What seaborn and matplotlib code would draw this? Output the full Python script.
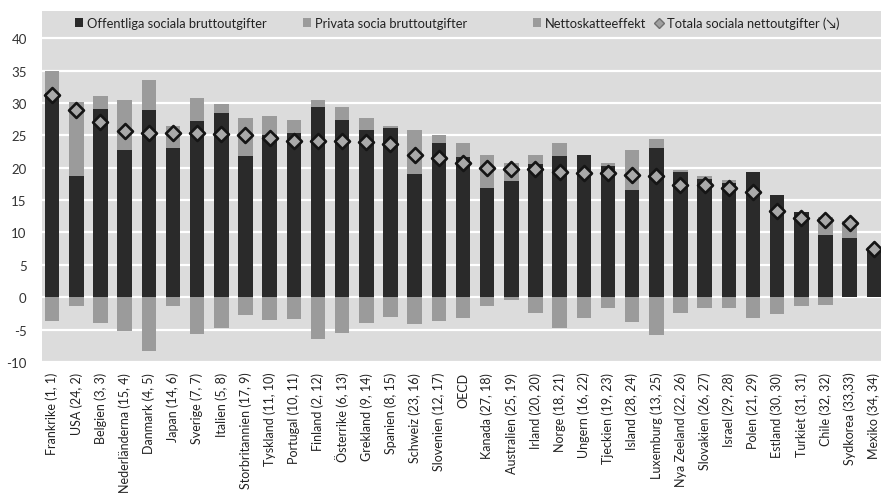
import numpy as np
import pandas as pd
import matplotlib
matplotlib.use("Agg")
import matplotlib.pyplot as plt
from matplotlib.patches import Patch
from matplotlib.lines import Line2D
import seaborn as sns

countries = ["Frankrike (1, 1)", "USA (24, 2)", "Belgien (3, 3)", "Nederländerna (15, 4)",
             "Danmark (4, 5)", "Japan (14, 6)", "Sverige (7, 7)", "Italien (5, 8)",
             "Storbritannien (17, 9)", "Tyskland (11, 10)", "Portugal (10, 11)",
             "Finland (2, 12)", "Österrike (6, 13)", "Grekland (9, 14)", "Spanien (8, 15)",
             "Schweiz (23, 16)", "Slovenien (12, 17)", "OECD", "Kanada (27, 18)",
             "Australien (25, 19)", "Irland (20, 20)", "Norge (18, 21)", "Ungern (16, 22)",
             "Tjeckien (19, 23)", "Island (28, 24)", "Luxemburg (13, 25)",
             "Nya Zeeland (22, 26)", "Slovakien (26, 27)", "Israel (29, 28)",
             "Polen (21, 29)", "Estland (30, 30)", "Turkiet (31, 31)", "Chile (32, 32)",
             "Sydkorea (33,33)", "Mexiko (34, 34)"]

public = [31.5, 18.7, 29.1, 22.8, 28.9, 23.0, 27.2, 28.5, 21.8, 25.0, 25.4, 29.3, 27.4,
          25.9, 26.2, 19.1, 23.8, 21.7, 16.8, 18.0, 20.5, 21.8, 22.0, 20.2, 16.5, 23.1,
          19.4, 18.2, 17.6, 19.4, 15.8, 13.2, 9.6, 9.1, 7.5]
private = [3.4, 11.5, 1.9, 7.7, 4.6, 3.5, 3.6, 1.4, 5.9, 3.0, 2.0, 1.2, 2.0, 1.8, 0.3,
           6.8, 1.3, 2.1, 5.2, 2.8, 1.5, 2.0, 0.0, 0.5, 6.2, 1.3, 0.3, 0.5, 0.5, 0.0,
           0.0, 0.0, 2.8, 2.6, 0.3]
nettax = [-3.7, -1.4, -4.0, -5.2, -8.3, -1.3, -5.6, -4.8, -2.7, -3.5, -3.3, -6.5, -5.5,
          -4.0, -3.0, -4.2, -3.7, -3.2, -1.3, -0.5, -2.4, -4.7, -3.2, -1.6, -3.9, -5.8,
          -2.4, -1.6, -1.6, -3.2, -2.6, -1.3, -1.2, 0.0, 0.0]
total = [31.2, 28.9, 27.1, 25.6, 25.3, 25.3, 25.3, 25.2, 25.0, 24.6, 24.2, 24.1, 24.1,
         23.9, 23.6, 21.9, 21.5, 20.7, 20.0, 19.8, 19.8, 19.4, 19.2, 19.2, 18.9, 18.7,
         17.4, 17.4, 16.8, 16.3, 13.3, 12.2, 12.0, 11.4, 7.4]
yticks = [-10, -5, 0, 5, 10, 15, 20, 25, 30, 35, 40]
legend_labels = ["Offentliga sociala bruttoutgifter", "Privata socia bruttoutgifter",
                 "Nettoskatteeffekt", "Totala sociala nettoutgifter (↘)"]

df = pd.DataFrame({"land": countries, "public": public, "private": private,
                   "nettax": nettax, "total": total})
df["gross"] = df["public"] + df["private"]

DARK = "#2a2a2a"
LIGHT = "#9b9b9b"
BG = "#dcdcdc"

sns.set_theme(style="white")
plt.rcParams["font.family"] = "Lato"

fig = plt.figure(figsize=(8.81, 5.02), dpi=100)
ax = fig.add_axes([42 / 881, 1 - 363 / 502, 839 / 881, (363 - 12) / 502])
ax.set_facecolor(BG)

bw = 0.6
sns.barplot(data=df, x="land", y="gross", color=LIGHT, width=bw, saturation=1,
            ax=ax, zorder=2, linewidth=0)
sns.barplot(data=df, x="land", y="public", color=DARK, width=bw, saturation=1,
            ax=ax, zorder=3, linewidth=0)
sns.barplot(data=df, x="land", y="nettax", color=LIGHT, width=bw, saturation=1,
            ax=ax, zorder=2, linewidth=0)
sns.scatterplot(x=np.arange(len(countries)), y=df["total"], marker="D", s=58,
                color="#a9a9a9", edgecolor="#151515", linewidth=1.9, ax=ax, zorder=5,
                legend=False)

ax.set_ylim(-10, 44.2)
ax.set_xlim(-0.42, 34.3)
ax.set_yticks(yticks)
ax.set_yticklabels([str(v) for v in yticks], fontsize=9.5, color="#333333")
ax.yaxis.grid(True, color="white", linewidth=1.6, zorder=1)
ax.set_axisbelow(True)
ax.set_xlabel("")
ax.set_ylabel("")
ax.set_xticks(np.arange(len(countries)))
ax.set_xticklabels(countries, rotation=90, fontsize=9, color="#222222")
ax.tick_params(axis="both", length=0, pad=7)
ax.tick_params(axis="y", pad=11)
for s in ax.spines.values():
    s.set_visible(False)

handles = [Patch(facecolor=DARK, edgecolor="none"),
           Patch(facecolor=LIGHT, edgecolor="none"),
           Patch(facecolor=LIGHT, edgecolor="none"),
           Line2D([], [], marker="D", linestyle="none", markersize=5,
                  markerfacecolor="#a0a0a0", markeredgecolor="#707070")]
xpos = [75, 303, 533, 655]
legs = []
for h, lab, xp in zip(handles, legend_labels, xpos):
    leg = ax.legend([h], [lab], loc="center left",
                    bbox_to_anchor=((xp - 42) / 839, (363 - 24) / 351),
                    frameon=False, fontsize=9.3, handlelength=0.6, handleheight=0.6,
                    handletextpad=0.3, borderpad=0, borderaxespad=0)
    for t in leg.get_texts():
        t.set_color("#222222")
        t.set_fontfamily(["Lato", "DejaVu Sans"])
    legs.append(leg)
ax.legend_ = None
for leg in legs:
    ax.add_artist(leg)

fig.savefig("out.png", dpi=100, facecolor="white")
